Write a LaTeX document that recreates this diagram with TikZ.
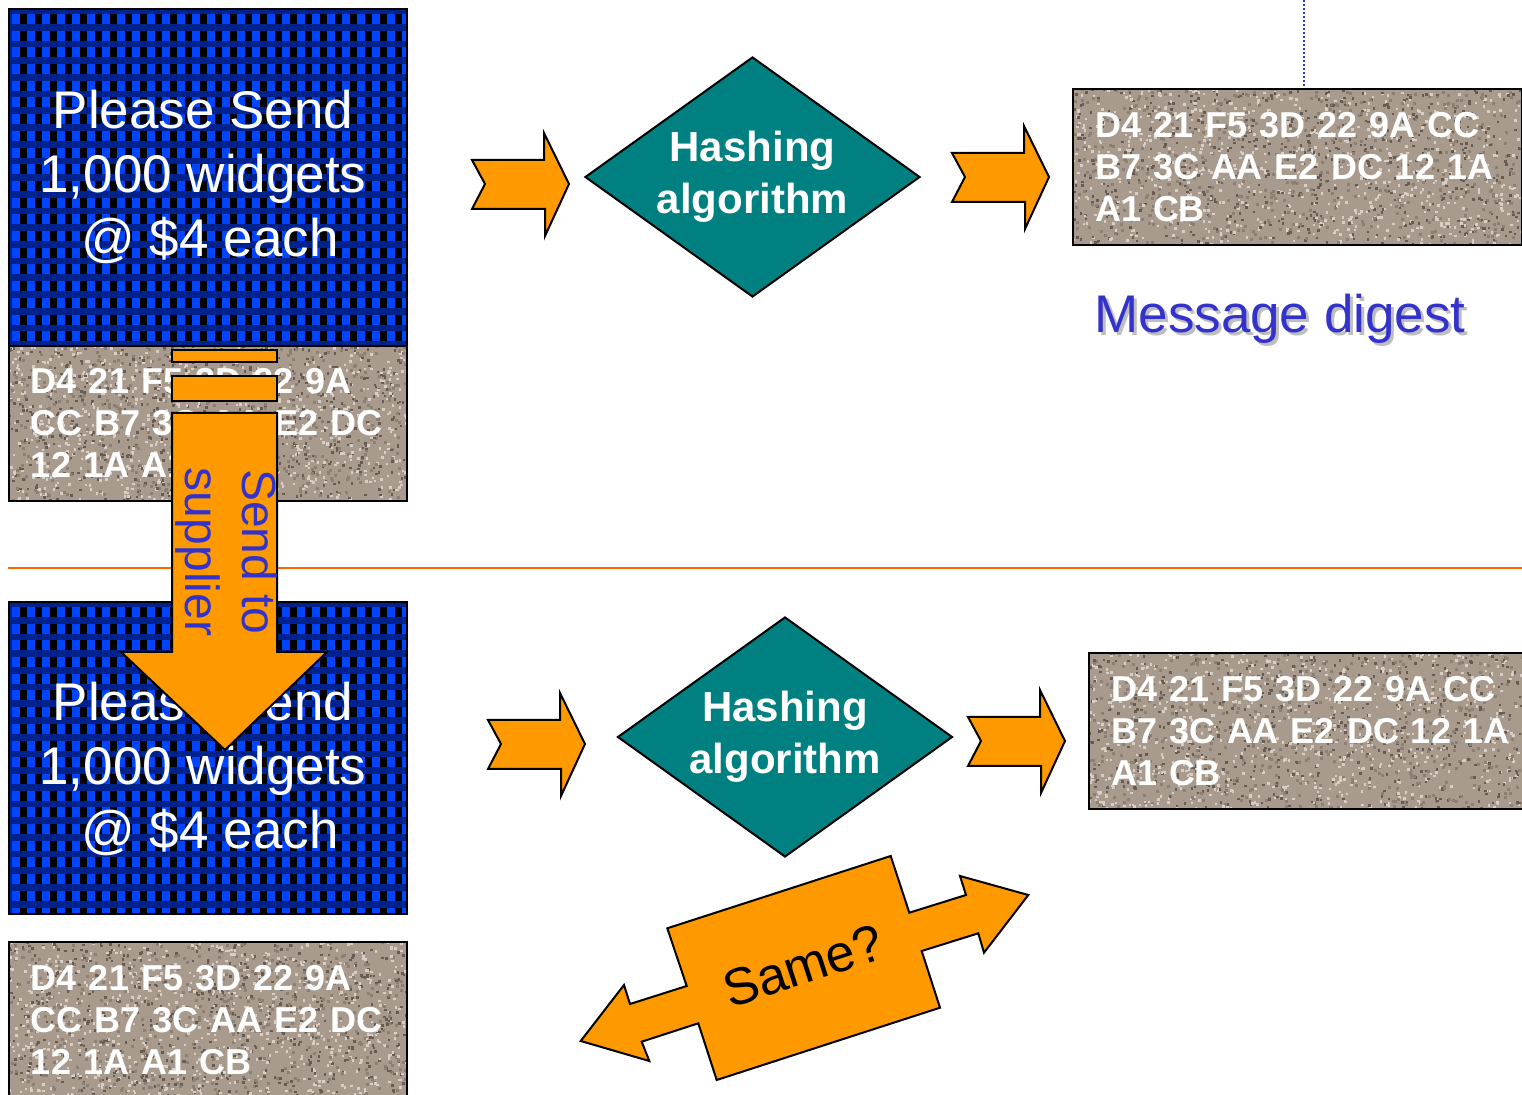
\documentclass[tikz,border=0pt]{standalone}
\usepackage{fontspec}
\setmainfont{Liberation Sans}
\usetikzlibrary{shapes.geometric}

\definecolor{boxorange}{HTML}{FF9900}
\definecolor{hashteal}{HTML}{008080}
\definecolor{labelblue}{HTML}{3333CC}
\definecolor{checkblue}{HTML}{0044FF}
\definecolor{checkdark}{HTML}{00228C}
\definecolor{granitebase}{HTML}{A89A8C}
\definecolor{granitedark}{HTML}{675C54}
\definecolor{granitemid}{HTML}{8C7F74}
\definecolor{granitelight}{HTML}{D8CEC6}
\definecolor{ruleorange}{HTML}{FF6600}
\definecolor{shadowgray}{HTML}{BEBEBE}

% blue chequered fabric behind the order text
\newcommand\checkerfill[4]{%
  \begin{scope}
    \clip (#1,#2) rectangle (#3,#4);
    \fill[checkdark] (#1,#2) rectangle (#3,#4);
    \foreach \i in {0,...,27}{
      \foreach \j in {0,...,20}{
        \fill[checkblue] ({#1+4+15*\i},{#2+6+16.7*\j}) rectangle ++(7.5,10);
        \fill[black] ({#1+11.5+15*\i},{#2+6+16.7*\j}) rectangle ++(7.5,10);
      }
    }
  \end{scope}}

% speckled stone texture behind the digest values
\newcommand\granitefill[4]{%
  \begin{scope}
    \clip (#1,#2) rectangle (#3,#4);
    \fill[granitebase] (#1,#2) rectangle (#3,#4);
    \foreach \k in {1,...,1900}{
      \pgfmathsetmacro\gx{#1+rnd*(#3-#1)}
      \pgfmathsetmacro\gy{#2+rnd*(#4-#2)}
      \pgfmathsetmacro\gs{rnd}
      \ifdim\gs pt<0.33pt
        \fill[granitedark] (\gx,\gy) rectangle ++(2.5,2.5);
      \else
        \ifdim\gs pt<0.6pt
          \fill[granitemid] (\gx,\gy) rectangle ++(3,3);
        \else
          \fill[granitelight] (\gx,\gy) rectangle ++(2.5,2.5);
        \fi
      \fi
    }
  \end{scope}}

\tikzset{
  panel/.style={draw=black, line width=1pt, anchor=north west, inner sep=0pt},
  ordertext/.style={text=white, align=center, inner sep=0pt,
    font=\fontsize{26.5pt}{32pt}\selectfont},
  hexbox/.style={draw=black, line width=1pt, anchor=north west,
    inner xsep=11pt, inner ysep=0pt, align=left, text=white,
    font=\bfseries\fontsize{18pt}{21pt}\selectfont},
  hashdiamond/.style={diamond, draw=black, line width=1pt, fill=hashteal,
    aspect=1.4, inner sep=0pt, minimum width=167.5pt, minimum height=120pt,
    text=white, align=center, font=\bfseries\fontsize{21pt}{26pt}\selectfont},
  blockarrow/.style={fill=boxorange, draw=black, line width=1pt, line join=miter},
  digesttext/.style={anchor=base, inner sep=0pt, text=labelblue,
    font=\fontsize{26.5pt}{32pt}\selectfont},
  sendtext/.style={text=labelblue, align=center, inner sep=0pt,
    font=\fontsize{24pt}{28.5pt}\selectfont},
  sametext/.style={text=black, inner sep=0pt,
    font=\fontsize{26pt}{31pt}\selectfont},
  dividerline/.style={draw=ruleorange, line width=1.3pt},
  dotline/.style={draw=labelblue, line width=1pt, dash pattern=on 1pt off 1pt},
  pics/notcharrow/.style={code={
    \filldraw[blockarrow] (0,27) -- (13,51) -- (0,76) -- (73,76) -- (73,103)
      -- (97,51) -- (72,0) -- (72,27) -- cycle;}}
}

\begin{document}
\begin{tikzpicture}[x=0.5pt, y=-0.5pt]
\useasboundingbox (0,0) rectangle (1522,1095);
\clip (0,0) rectangle (1522,1095);
\fill[white] (0,0) rectangle (1522,1095);
\pgfmathsetseed{2718}

% divider between sending and checking
\coordinate (ruleL) at (8,568);
\coordinate (ruleR) at (1522,568);
\draw[dividerline] (ruleL) -- (ruleR);

% ---- sender: message and its signed digest
\checkerfill{8}{8}{406}{345}
\node[panel, minimum width=199pt, minimum height=168.5pt] (order1) at (8,8) {};
\node[ordertext] (order1text) at (203,177)
  {Please Send\\1,000 widgets\\\hspace*{7pt}@ \$4 each};
\granitefill{8}{345}{406}{500}
\node[hexbox, text width=177pt, minimum height=77.5pt] (sig1) at (8,345)
  {D4 21 F5 3D 22 9A\\CC B7 3C AA E2 DC\\12 1A A1 CB};

\pic at (472,133) {notcharrow};
\node[hashdiamond] (hash1) at (752.5,177) {Hashing\\algorithm};
\pic at (952,126) {notcharrow};

\granitefill{1072}{88}{1521}{244}
\node[hexbox, text width=202.5pt, minimum height=78pt] (digestbox) at (1072,88)
  {D4 21 F5 3D 22 9A CC\\B7 3C AA E2 DC 12 1A\\A1 CB};
\coordinate (tick) at (1304,0);
\draw[dotline] (tick) -- (tick |- digestbox.north);

\node[digesttext, text=shadowgray] (digestshade) at (1283,336) {Message digest};
\node[digesttext] (digest) at (1280,333) {Message digest};

% ---- receiver: recompute and compare
\checkerfill{8}{601}{406}{913}
\node[panel, minimum width=199pt, minimum height=156pt] (order2) at (8,601) {};
\node[ordertext] (order2text) at (203,769)
  {Please Send\\1,000 widgets\\\hspace*{7pt}@ \$4 each};
\granitefill{8}{941}{406}{1097}
\node[hexbox, text width=177pt, minimum height=78pt] (sig2) at (8,941)
  {D4 21 F5 3D 22 9A\\CC B7 3C AA E2 DC\\12 1A A1 CB};

\pic at (488,693) {notcharrow};
\node[hashdiamond] (hash2) at (785,737) {Hashing\\algorithm};
\pic at (968,690) {notcharrow};

\granitefill{1088}{652}{1537}{808}
\node[hexbox, text width=202.5pt, minimum height=78pt] (digest2) at (1088,652)
  {D4 21 F5 3D 22 9A CC\\B7 3C AA E2 DC 12 1A\\A1 CB};

% comparison block arrow
\filldraw[blockarrow] (667.3,928.3) -- (890.7,856) -- (909.3,912.7) -- (966,895)
  -- (960,876) -- (1028.3,895) -- (984,952.7) -- (978.3,933.3) -- (921.7,951)
  -- (940,1007.7) -- (716.7,1080) -- (698.3,1023.3) -- (641.7,1041.7)
  -- (649.3,1061) -- (580.7,1041) -- (624,985) -- (630,1004) -- (686.7,986) -- cycle;
\node[sametext, rotate=18] (same) at (803,966) {Same?};

% transmission arrow
\filldraw[blockarrow] (172,350) rectangle (277,362);
\filldraw[blockarrow] (172,376) rectangle (277,401);
\filldraw[blockarrow] (172,413) -- (172,652) -- (121,652) -- (225,750)
  -- (327,652) -- (277,652) -- (277,413) -- cycle;
\node[sendtext, rotate=-90] (sendlabel) at (226,552) {Send to\\supplier};
\end{tikzpicture}
\end{document}
